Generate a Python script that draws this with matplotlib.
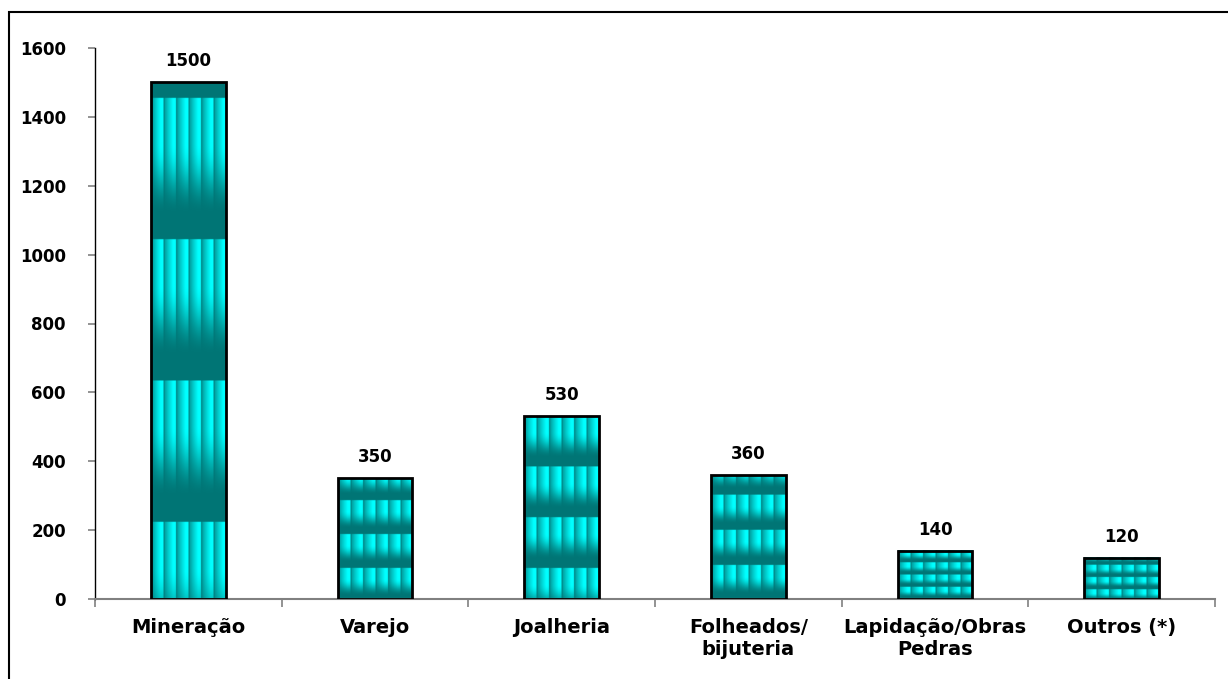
import numpy as np
import matplotlib
matplotlib.use("Agg")
import matplotlib.pyplot as plt
from matplotlib.patches import Rectangle

categories = ["Mineração", "Varejo", "Joalheria", "Folheados/\nbijuteria",
              "Lapidação/Obras\nPedras", "Outros (*)"]
values = [1500, 350, 530, 360, 140, 120]
y_ticks = [0, 200, 400, 600, 800, 1000, 1200, 1400, 1600]

# texture tile height (data units) and where one tile starts, per bar
tile_h = [410, 98, 147, 102, 35, 35]
tile_top = [224, 90, 90, 99, 35, 28]
n_cols = [6, 6, 6, 6, 6, 6]

DARK = np.array([0.0, 0.46, 0.46])
BRIGHT = np.array([0.0, 1.0, 1.0])

plt.rcParams["font.family"] = ["DejaVu Sans"]
plt.rcParams["font.weight"] = "bold"


def texture(height, th, top, ncol, nx=120, per_px=0.5):
    ny = max(int(height / per_px), 20)
    y = np.linspace(height, 0, ny)
    t = ((top - y) % th) / th
    v = np.clip((0.82 - t) / 0.5, 0, 1)
    v = v * v * (3 - 2 * v)
    u = np.linspace(0, 1, nx, endpoint=False)
    h = (u * ncol) % 1.0
    hh = np.clip(h / 0.75, 0, 1) ** 0.8
    hh[h < 0.06] = 0.0
    f = v[:, None] * (0.15 + 0.85 * hh[None, :])
    return DARK + (BRIGHT - DARK) * f[..., None]


fig = plt.figure(figsize=(12.28, 6.79), dpi=100)
fig.patches.append(Rectangle((9 / 1228, -0.05), 1.2, 1 - 12 / 679 + 0.05,
                             transform=fig.transFigure, fill=False,
                             edgecolor="black", linewidth=1.5))
ax = fig.add_axes([95 / 1228, 1 - 599 / 679, 1120 / 1228, 551 / 679])

x = np.arange(len(categories))
bars = ax.bar(x, values, width=0.4, facecolor="none", edgecolor="black",
              linewidth=2, zorder=3)
for i, b in enumerate(bars):
    x0, w, hgt = b.get_x(), b.get_width(), b.get_height()
    img = texture(hgt, tile_h[i], tile_top[i], n_cols[i])
    ax.imshow(img, extent=(x0, x0 + w, 0, hgt), aspect="auto",
              interpolation="bilinear", zorder=2)
    ax.text(b.get_x() + w / 2, hgt + 35, f"{values[i]}", ha="center",
            va="bottom", fontsize=12, fontweight="bold")

ax.set_xlim(-0.5, len(categories) - 0.5)
ax.set_ylim(0, 1600)
ax.set_yticks(y_ticks)
ax.set_yticklabels([str(v) for v in y_ticks], fontsize=12, fontweight="bold")
ax.set_xticks(np.arange(-0.5, len(categories), 1.0))
ax.set_xticklabels([])
ax.set_xticks(x, minor=True)
ax.set_xticklabels(categories, minor=True, fontsize=14, fontweight="bold",
                   linespacing=1.15)
ax.tick_params(axis="x", which="minor", length=0, pad=14)
ax.tick_params(axis="x", which="major", length=6, color="#808080", width=1.2)
ax.tick_params(axis="y", length=5, color="#808080", width=1.2, pad=16)

for s in ["top", "right"]:
    ax.spines[s].set_visible(False)
ax.spines["bottom"].set_color("#808080")
ax.spines["bottom"].set_linewidth(1.5)
ax.spines["left"].set_color("black")
ax.spines["left"].set_linewidth(1.0)

fig.savefig("out.png", dpi=100)
